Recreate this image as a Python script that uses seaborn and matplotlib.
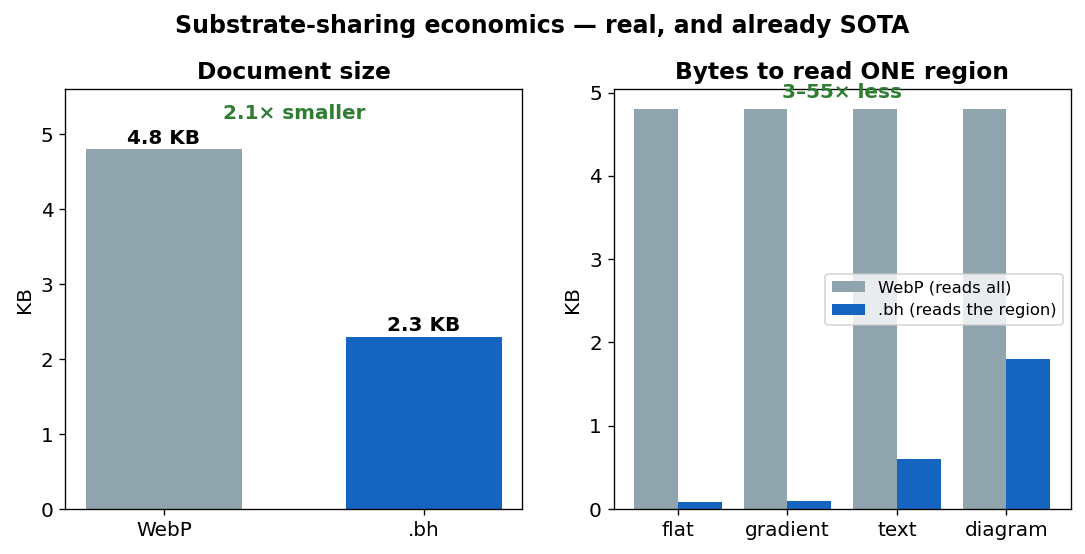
import matplotlib
matplotlib.use("Agg")
import matplotlib.pyplot as plt
import seaborn as sns
import pandas as pd

formats = ["WebP", ".bh"]
doc_size_kb = [4.8, 2.3]

regions = ["flat", "gradient", "text", "diagram"]
webp_read_kb = [4.8, 4.8, 4.8, 4.8]
bh_read_kb = [0.087, 0.1, 0.6, 1.8]
series_names = ["WebP (reads all)", ".bh (reads the region)"]

GRAY = "#90a4ae"
BLUE = "#1565c0"
GREEN = "#2e7d32"

plt.rcParams["font.family"] = ["DejaVu Sans"]
plt.rcParams["xtick.labelsize"] = 12
plt.rcParams["ytick.labelsize"] = 12
plt.rcParams["axes.labelsize"] = 12

fig, (ax1, ax2) = plt.subplots(1, 2, figsize=(1085 / 120, 554 / 120), dpi=120)
fig.subplots_adjust(left=0.06, right=0.987, top=0.839, bottom=0.081, wspace=0.199)

# Left: document size
df1 = pd.DataFrame({"fmt": formats, "kb": doc_size_kb})
sns.barplot(data=df1, x="fmt", y="kb", hue="fmt", palette=[GRAY, BLUE],
            width=0.6, legend=False, ax=ax1, saturation=1)
for c in ax1.containers:
    ax1.bar_label(c, labels=[f"{v:.1f} KB" for v in c.datavalues],
                  padding=1, fontweight="bold", fontsize=12)
ax1.set_xlim(-0.38, 1.38)
ax1.set_ylim(0, 5.6)
ax1.set_xlabel("")
ax1.set_ylabel("KB")
ax1.set_title("Document size", fontsize=14, fontweight="bold")
ax1.text(0.5, 5.28, "2.1× smaller", color=GREEN, fontweight="bold",
         fontsize=12, ha="center", va="center")

# Right: bytes to read one region
df2 = pd.DataFrame({
    "region": regions * 2,
    "kb": webp_read_kb + bh_read_kb,
    "series": [series_names[0]] * len(regions) + [series_names[1]] * len(regions),
})
sns.barplot(data=df2, x="region", y="kb", hue="series", palette=[GRAY, BLUE],
            width=0.8, ax=ax2, saturation=1)
ax2.set_xlim(-0.59, 3.59)
ax2.set_ylim(0, 5.04)
ax2.set_xlabel("")
ax2.set_ylabel("KB")
ax2.set_title("Bytes to read ONE region", fontsize=14, fontweight="bold")
ax2.text(1.5, 5.0, "3–55× less", color=GREEN, fontweight="bold",
         fontsize=12, ha="center", va="center")
ax2.legend(title=None, loc="center right", fontsize=9.8)

fig.suptitle("Substrate-sharing economics — real, and already SOTA",
             fontsize=14.2, fontweight="bold", y=0.974)

fig.savefig("out.png", dpi=120)
